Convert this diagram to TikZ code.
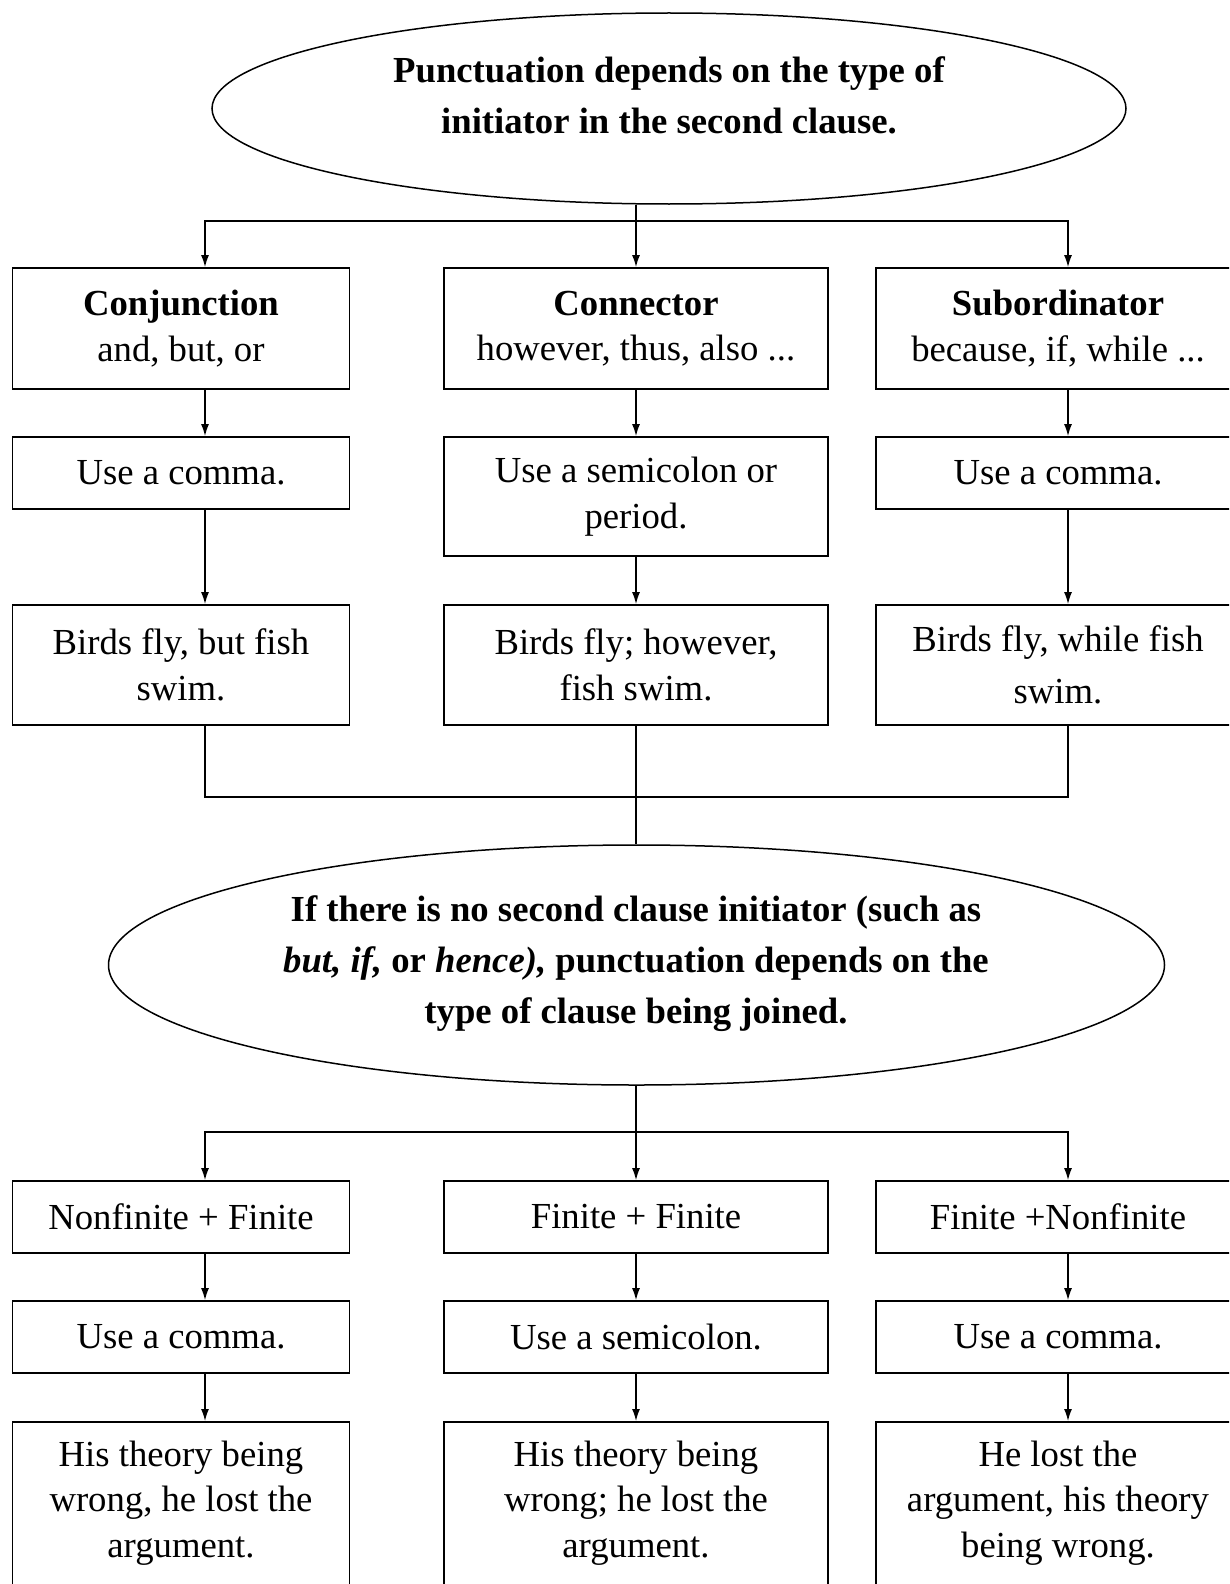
\documentclass[tikz,border=0pt]{standalone}
\usepackage{fontspec}
\setmainfont{Liberation Serif}
\usetikzlibrary{shapes.geometric,arrows.meta}
\begin{document}
\begin{tikzpicture}[x=1pt,y=-1pt,
  txt/.style={font=\fontsize{36.7}{45.5}\selectfont, align=center, inner sep=0pt},
  boxnode/.style={draw, line width=1.8pt, inner sep=0pt, font=\fontsize{36.7}{45.5}\selectfont, align=center},
  ellnode/.style={draw, ellipse, line width=1.5pt, inner sep=0pt},
  ln/.style={line width=1.4pt},
  arr/.style={line width=1.4pt, -{Latex[length=12pt,width=8pt]}}]
\useasboundingbox (0,0) rectangle (1229,1584);
\clip (0,0) rectangle (1229,1584);
\fill[white] (0,0) rectangle (1229,1584);
% column x of connectors
\coordinate (xa) at (205,0);
\coordinate (xb) at (636,0);
\coordinate (xc) at (1068,0);
% top ellipse
\node[ellnode, minimum width=914pt, minimum height=191pt] (e1) at (669,108.5) {};
\node[txt, font=\bfseries\fontsize{36.7}{51}\selectfont] (e1t) at (669,95) {Punctuation depends on the type of\\initiator in the second clause.};
% row 1
\node[boxnode, minimum width=337pt, minimum height=121pt] (r1a) at (181,328.5) {\textbf{Conjunction}\\and, but, or};
\node[boxnode, minimum width=384pt, minimum height=121pt] (r1b) at (636,328.5) {\textbf{Connector}\\however, thus, also ...};
\node[boxnode, minimum width=364pt, minimum height=121pt] (r1c) at (1058,328.5) {\textbf{Subordinator}\\because, if, while ...};
% row 2
\node[boxnode, minimum width=337pt, minimum height=72pt] (r2a) at (181,473) {Use a comma.};
\node[boxnode, minimum width=384pt, minimum height=119pt] (r2b) at (636,496.5) {Use a semicolon or\\period.};
\node[boxnode, minimum width=364pt, minimum height=72pt] (r2c) at (1058,473) {Use a comma.};
% row 3
\node[boxnode, minimum width=337pt, minimum height=120pt] (r3a) at (181,665) {Birds fly, but fish\\swim.};
\node[boxnode, minimum width=384pt, minimum height=120pt] (r3b) at (636,665) {Birds fly; however,\\fish swim.};
\node[boxnode, minimum width=364pt, minimum height=120pt, font=\fontsize{36.7}{52}\selectfont] (r3c) at (1058,665) {Birds fly, while fish\\swim.};
% second ellipse
\node[ellnode, minimum width=1056pt, minimum height=240pt] (e2) at (636.5,965) {};
\node[txt, font=\bfseries\fontsize{36.7}{51}\selectfont] (e2t) at (636,964) {If there is no second clause initiator (such as\\\textit{but, if,} or \textit{hence),} punctuation depends on the\\type of clause being joined.};
% row 4
\node[boxnode, minimum width=337pt, minimum height=72pt] (r4a) at (181,1217) {Nonfinite + Finite};
\node[boxnode, minimum width=384pt, minimum height=72pt] (r4b) at (636,1217) {Finite + Finite};
\node[boxnode, minimum width=364pt, minimum height=72pt] (r4c) at (1058,1217) {Finite +Nonfinite};
% row 5
\node[boxnode, minimum width=337pt, minimum height=72pt] (r5a) at (181,1337) {Use a comma.};
\node[boxnode, minimum width=384pt, minimum height=72pt] (r5b) at (636,1337) {Use a semicolon.};
\node[boxnode, minimum width=364pt, minimum height=72pt] (r5c) at (1058,1337) {Use a comma.};
% row 6 (boxes run past the bottom edge)
\node[boxnode, minimum width=337pt, minimum height=200pt, anchor=north] (r6a) at (181,1421) {};
\node[boxnode, minimum width=384pt, minimum height=200pt, anchor=north] (r6b) at (636,1421) {};
\node[boxnode, minimum width=364pt, minimum height=200pt, anchor=north] (r6c) at (1058,1421) {};
\node[txt] (t6a) at (181,1503) {His theory being\\wrong, he lost the\\argument.};
\node[txt] (t6b) at (636,1503) {His theory being\\wrong; he lost the\\argument.};
\node[txt] (t6c) at (1058,1503) {He lost the\\argument, his theory\\being wrong.};
% connectors: top
\coordinate (j1) at (636,221);
\draw[ln] (e1.south -| xb) -- (j1);
\draw[arr] (j1) -| (r1a.north -| xa);
\draw[arr] (j1) -- (r1b.north -| xb);
\draw[arr] (j1) -| (r1c.north -| xc);
\draw[arr] (r1a.south -| xa) -- (r2a.north -| xa);
\draw[arr] (r1b.south -| xb) -- (r2b.north -| xb);
\draw[arr] (r1c.south -| xc) -- (r2c.north -| xc);
\draw[arr] (r2a.south -| xa) -- (r3a.north -| xa);
\draw[arr] (r2b.south -| xb) -- (r3b.north -| xb);
\draw[arr] (r2c.south -| xc) -- (r3c.north -| xc);
% merge into second ellipse
\coordinate (j2) at (636,797);
\draw[ln] (r3a.south -| xa) |- (j2);
\draw[ln] (r3c.south -| xc) |- (j2);
\draw[ln] (r3b.south -| xb) -- (e2.north -| xb);
% connectors: bottom
\coordinate (j3) at (636,1132);
\draw[ln] (e2.south -| xb) -- (j3);
\draw[arr] (j3) -| (r4a.north -| xa);
\draw[arr] (j3) -- (r4b.north -| xb);
\draw[arr] (j3) -| (r4c.north -| xc);
\draw[arr] (r4a.south -| xa) -- (r5a.north -| xa);
\draw[arr] (r4b.south -| xb) -- (r5b.north -| xb);
\draw[arr] (r4c.south -| xc) -- (r5c.north -| xc);
\draw[arr] (r5a.south -| xa) -- (r6a.north -| xa);
\draw[arr] (r5b.south -| xb) -- (r6b.north -| xb);
\draw[arr] (r5c.south -| xc) -- (r6c.north -| xc);
\end{tikzpicture}
\end{document}
